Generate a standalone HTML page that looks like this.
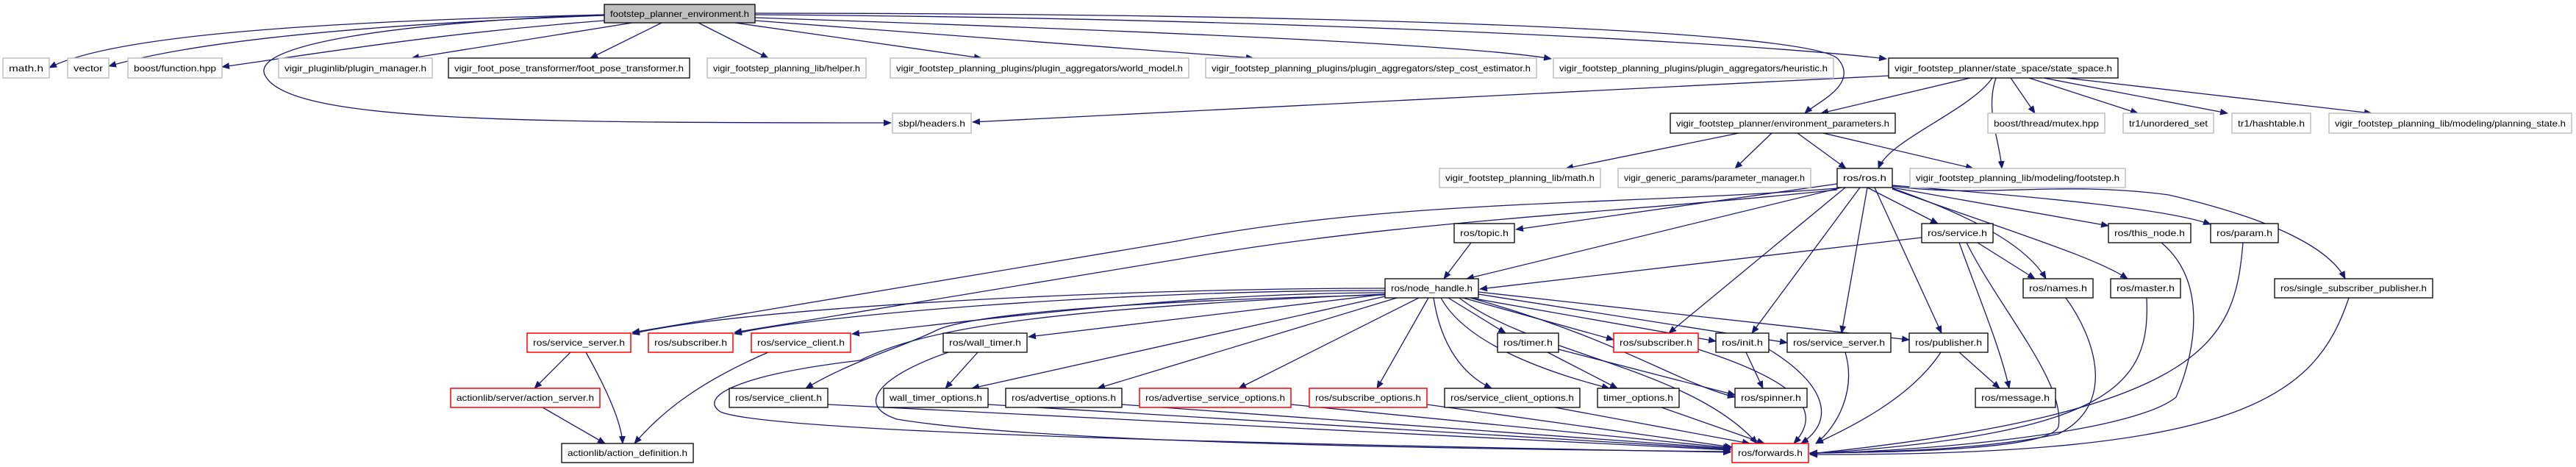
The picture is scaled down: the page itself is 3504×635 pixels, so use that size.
<!DOCTYPE html>
<html><head><meta charset="utf-8"><style>
html,body{margin:0;padding:0;background:#fff;}
svg{display:block;}
text{font-family:"Liberation Sans",sans-serif;font-size:12px;fill:#000;}
.g{fill:#fff;stroke:#bfbfbf;stroke-width:1.5;}
.k{fill:#fff;stroke:#000;stroke-width:1.3;}
.r{fill:#fff;stroke:#ff0000;stroke-width:1.5;}
.t{fill:#bfbfbf;stroke:#000;stroke-width:1.3;}
.e{fill:none;stroke:#191970;stroke-width:1.3;}
</style></head><body>
<svg width="3504" height="635" viewBox="0 0 3504 635" xmlns="http://www.w3.org/2000/svg">
<defs><marker id="a" markerUnits="userSpaceOnUse" markerWidth="11" markerHeight="9" refX="10" refY="4.5" orient="auto"><path d="M0,0 L11,4.5 L0,9 z" fill="#191970"/></marker></defs>
<g class="e" marker-end="url(#a)">
<path class="e" d="M822,20 C400,30 150,50 67,92"/>
<path class="e" d="M822,21 C450,35 250,60 148,90"/>
<path class="e" d="M822,28 C600,45 450,70 302,91"/>
<path class="e" d="M860,31 L560,79"/>
<path class="e" d="M900,31 L803,79"/>
<path class="e" d="M950,31 L1045,79"/>
<path class="e" d="M1000,31 L1335,79"/>
<path class="e" d="M1027,28 L1705,79"/>
<path class="e" d="M1027,24 C1500,40 2000,60 2110,80"/>
<path class="e" d="M1027,20 C1800,25 2400,60 2566,80"/>
<path class="e" d="M822,20 C550,30 330,60 362,105 C400,165 700,167 1212,167"/>
<path class="e" d="M1027,18 C1800,18 2460,40 2500,80 C2530,115 2470,140 2455,154"/>
<path class="e" d="M2569,103 L1323,166"/>
<path class="e" d="M2680,106 L2477,154"/>
<path class="e" d="M2710,106 C2680,150 2570,190 2555,229"/>
<path class="e" d="M2715,106 C2700,150 2720,190 2723,229"/>
<path class="e" d="M2735,106 L2768,154"/>
<path class="e" d="M2760,106 L2908,154"/>
<path class="e" d="M2780,106 L3030,154"/>
<path class="e" d="M2810,106 L3226,154"/>
<path class="e" d="M2365,181 L2130,229"/>
<path class="e" d="M2410,181 L2360,229"/>
<path class="e" d="M2445,181 L2511,229"/>
<path class="e" d="M2480,181 L2684,229"/>
<path class="e" d="M2499,250 L2062,312"/>
<path class="e" d="M2505,255 L1995,379"/>
<path class="e" d="M2540,255 L2636,304"/>
<path class="e" d="M2574,255 L2868,307"/>
<path class="e" d="M2574,252 C2800,270 2950,285 3007,305"/>
<path class="e" d="M2574,256 C2700,300 2760,340 2783,379"/>
<path class="e" d="M2574,257 C2750,320 2850,350 2894,379"/>
<path class="e" d="M2574,253 C2700,270 2800,245 2950,265 C3100,300 3170,340 3190,379"/>
<path class="e" d="M2499,256 C2200,280 1900,270 1600,328 L860,452"/>
<path class="e" d="M2499,258 C2200,290 1900,300 1600,353 L999,452"/>
<path class="e" d="M2510,255 L2270,453"/>
<path class="e" d="M2530,255 L2383,453"/>
<path class="e" d="M2540,255 L2505,453"/>
<path class="e" d="M2550,255 L2641,453"/>
<path class="e" d="M2614,323 L2013,393"/>
<path class="e" d="M2690,330 L2768,379"/>
<path class="e" d="M2665,330 C2690,400 2720,470 2733,528"/>
<path class="e" d="M2675,330 C2720,420 2810,520 2800,580 C2790,610 2600,615 2462,616"/>
<path class="e" d="M2940,330 C3000,380 2990,470 2960,540 C2900,590 2600,615 2462,616"/>
<path class="e" d="M3051,330 C3040,460 3010,560 2462,617"/>
<path class="e" d="M2810,405 C2850,460 2880,550 2800,590 C2700,612 2550,615 2462,616"/>
<path class="e" d="M2920,405 C2925,520 2880,590 2462,617"/>
<path class="e" d="M3195,405 C3150,540 3050,620 2462,618"/>
<path class="e" d="M2001,330 L1964,379"/>
<path class="e" d="M1884,392 C1500,392 1000,420 860,454"/>
<path class="e" d="M1884,395 C1500,395 1100,430 999,454"/>
<path class="e" d="M1884,398 C1600,398 1300,440 1159,454"/>
<path class="e" d="M1884,400 L1399,458"/>
<path class="e" d="M1884,401 C1500,410 1310,430 1272,450 C1220,475 1160,490 1096,528"/>
<path class="e" d="M1884,400 C1400,420 1250,450 1170,490 C1000,510 950,540 980,560 C1050,590 1800,605 2354,615"/>
<path class="e" d="M1290,479 C1200,510 1160,550 1220,570 C1400,600 1900,610 2354,614"/>
<path class="e" d="M1330,479 L1286,528"/>
<path class="e" d="M1884,403 L1322,528"/>
<path class="e" d="M1900,405 L1493,528"/>
<path class="e" d="M1930,405 L1685,528"/>
<path class="e" d="M1943,405 L1873,528"/>
<path class="e" d="M1950,405 C1960,470 1990,510 2029,528"/>
<path class="e" d="M1960,405 C1990,460 2080,500 2189,528"/>
<path class="e" d="M1970,405 L2048,453"/>
<path class="e" d="M1985,405 C2080,480 2300,500 2390,603"/>
<path class="e" d="M1990,405 L2195,462"/>
<path class="e" d="M2000,405 L2334,464"/>
<path class="e" d="M2011,400 L2431,466"/>
<path class="e" d="M2011,397 L2597,462"/>
<path class="e" d="M2000,405 C2200,460 2280,520 2360,540"/>
<path class="e" d="M776,479 L727,528"/>
<path class="e" d="M797,479 C820,520 845,570 847,603"/>
<path class="e" d="M738,554 L823,603"/>
<path class="e" d="M1045,479 C950,520 900,560 863,603"/>
<path class="e" d="M1126,550 L2354,612"/>
<path class="e" d="M1344,550 L2354,611"/>
<path class="e" d="M1526,550 L2354,610"/>
<path class="e" d="M1756,550 L2354,609"/>
<path class="e" d="M1941,550 L2356,608"/>
<path class="e" d="M2115,554 L2380,603"/>
<path class="e" d="M2260,554 L2400,603"/>
<path class="e" d="M2105,479 L2200,528"/>
<path class="e" d="M2120,475 L2360,537"/>
<path class="e" d="M2310,475 C2450,520 2480,560 2440,603"/>
<path class="e" d="M2375,479 L2398,528"/>
<path class="e" d="M2406,475 C2480,520 2500,570 2450,603"/>
<path class="e" d="M2510,479 C2525,530 2500,580 2470,603"/>
<path class="e" d="M2640,479 C2600,540 2520,580 2470,603"/>
<path class="e" d="M2665,479 L2720,528"/>
</g>

<!-- nodes -->
<rect class="t" x="822" y="6" width="205" height="25"/><text x="830" y="23" textLength="189" lengthAdjust="spacingAndGlyphs">footstep_planner_environment.h</text>

<rect class="g" x="4" y="79" width="63" height="27"/><text x="12" y="97" textLength="47" lengthAdjust="spacingAndGlyphs">math.h</text>
<rect class="g" x="92" y="79" width="56" height="27"/><text x="100" y="97" textLength="40" lengthAdjust="spacingAndGlyphs">vector</text>
<rect class="g" x="174" y="79" width="128" height="27"/><text x="182" y="97" textLength="112" lengthAdjust="spacingAndGlyphs">boost/function.hpp</text>
<rect class="g" x="379" y="79" width="209" height="27"/><text x="387" y="97" textLength="193" lengthAdjust="spacingAndGlyphs">vigir_pluginlib/plugin_manager.h</text>
<rect class="k" x="610" y="79" width="328" height="27"/><text x="618" y="97" textLength="312" lengthAdjust="spacingAndGlyphs">vigir_foot_pose_transformer/foot_pose_transformer.h</text>
<rect class="g" x="962" y="79" width="216" height="27"/><text x="970" y="97" textLength="200" lengthAdjust="spacingAndGlyphs">vigir_footstep_planning_lib/helper.h</text>
<rect class="g" x="1211" y="79" width="406" height="27"/><text x="1219" y="97" textLength="390" lengthAdjust="spacingAndGlyphs">vigir_footstep_planning_plugins/plugin_aggregators/world_model.h</text>
<rect class="g" x="1640" y="79" width="450" height="27"/><text x="1648" y="97" textLength="434" lengthAdjust="spacingAndGlyphs">vigir_footstep_planning_plugins/plugin_aggregators/step_cost_estimator.h</text>
<rect class="g" x="2113" y="79" width="381" height="27"/><text x="2121" y="97" textLength="365" lengthAdjust="spacingAndGlyphs">vigir_footstep_planning_plugins/plugin_aggregators/heuristic.h</text>
<rect class="k" x="2569" y="79" width="312" height="27"/><text x="2577" y="97" textLength="296" lengthAdjust="spacingAndGlyphs">vigir_footstep_planner/state_space/state_space.h</text>

<rect class="g" x="1214" y="154" width="107" height="27"/><text x="1222" y="172" textLength="91" lengthAdjust="spacingAndGlyphs">sbpl/headers.h</text>
<rect class="k" x="2272" y="154" width="306" height="27"/><text x="2280" y="172" textLength="290" lengthAdjust="spacingAndGlyphs">vigir_footstep_planner/environment_parameters.h</text>
<rect class="g" x="2704" y="154" width="159" height="27"/><text x="2712" y="172" textLength="143" lengthAdjust="spacingAndGlyphs">boost/thread/mutex.hpp</text>
<rect class="g" x="2888" y="154" width="123" height="27"/><text x="2896" y="172" textLength="107" lengthAdjust="spacingAndGlyphs">tr1/unordered_set</text>
<rect class="g" x="3036" y="154" width="107" height="27"/><text x="3044" y="172" textLength="91" lengthAdjust="spacingAndGlyphs">tr1/hashtable.h</text>
<rect class="g" x="3168" y="154" width="330" height="27"/><text x="3176" y="172" textLength="314" lengthAdjust="spacingAndGlyphs">vigir_footstep_planning_lib/modeling/planning_state.h</text>

<rect class="g" x="1958" y="229" width="219" height="26"/><text x="1966" y="246" textLength="203" lengthAdjust="spacingAndGlyphs">vigir_footstep_planning_lib/math.h</text>
<rect class="g" x="2201" y="229" width="262" height="26"/><text x="2209" y="246" textLength="246" lengthAdjust="spacingAndGlyphs">vigir_generic_params/parameter_manager.h</text>
<rect class="k" x="2499" y="229" width="75" height="26"/><text x="2507" y="246" textLength="59" lengthAdjust="spacingAndGlyphs">ros/ros.h</text>
<rect class="g" x="2598" y="229" width="293" height="26"/><text x="2606" y="246" textLength="277" lengthAdjust="spacingAndGlyphs">vigir_footstep_planning_lib/modeling/footstep.h</text>

<rect class="k" x="1978" y="304" width="82" height="26"/><text x="1986" y="321" textLength="66" lengthAdjust="spacingAndGlyphs">ros/topic.h</text>
<rect class="k" x="2614" y="304" width="97" height="26"/><text x="2622" y="321" textLength="81" lengthAdjust="spacingAndGlyphs">ros/service.h</text>
<rect class="k" x="2868" y="304" width="112" height="26"/><text x="2876" y="321" textLength="96" lengthAdjust="spacingAndGlyphs">ros/this_node.h</text>
<rect class="k" x="3007" y="304" width="92" height="26"/><text x="3015" y="321" textLength="76" lengthAdjust="spacingAndGlyphs">ros/param.h</text>

<rect class="k" x="1884" y="379" width="127" height="26"/><text x="1892" y="396" textLength="111" lengthAdjust="spacingAndGlyphs">ros/node_handle.h</text>
<rect class="k" x="2752" y="379" width="95" height="26"/><text x="2760" y="396" textLength="79" lengthAdjust="spacingAndGlyphs">ros/names.h</text>
<rect class="k" x="2871" y="379" width="95" height="26"/><text x="2879" y="396" textLength="79" lengthAdjust="spacingAndGlyphs">ros/master.h</text>
<rect class="k" x="3094" y="379" width="215" height="26"/><text x="3102" y="396" textLength="199" lengthAdjust="spacingAndGlyphs">ros/single_subscriber_publisher.h</text>

<rect class="r" x="717" y="453" width="141" height="26"/><text x="725" y="470" textLength="125" lengthAdjust="spacingAndGlyphs">ros/service_server.h</text>
<rect class="r" x="882" y="453" width="115" height="26"/><text x="890" y="470" textLength="99" lengthAdjust="spacingAndGlyphs">ros/subscriber.h</text>
<rect class="r" x="1022" y="453" width="135" height="26"/><text x="1030" y="470" textLength="119" lengthAdjust="spacingAndGlyphs">ros/service_client.h</text>
<rect class="k" x="1283" y="453" width="114" height="26"/><text x="1291" y="470" textLength="98" lengthAdjust="spacingAndGlyphs">ros/wall_timer.h</text>
<rect class="k" x="2037" y="453" width="83" height="26"/><text x="2045" y="470" textLength="67" lengthAdjust="spacingAndGlyphs">ros/timer.h</text>
<rect class="r" x="2195" y="453" width="115" height="26"/><text x="2203" y="470" textLength="99" lengthAdjust="spacingAndGlyphs">ros/subscriber.h</text>
<rect class="k" x="2334" y="453" width="72" height="26"/><text x="2342" y="470" textLength="56" lengthAdjust="spacingAndGlyphs">ros/init.h</text>
<rect class="k" x="2431" y="453" width="141" height="26"/><text x="2439" y="470" textLength="125" lengthAdjust="spacingAndGlyphs">ros/service_server.h</text>
<rect class="k" x="2597" y="453" width="107" height="26"/><text x="2605" y="470" textLength="91" lengthAdjust="spacingAndGlyphs">ros/publisher.h</text>

<rect class="r" x="613" y="528" width="203" height="26"/><text x="621" y="545" textLength="187" lengthAdjust="spacingAndGlyphs">actionlib/server/action_server.h</text>
<rect class="k" x="992" y="528" width="134" height="26"/><text x="1000" y="545" textLength="118" lengthAdjust="spacingAndGlyphs">ros/service_client.h</text>
<rect class="k" x="1202" y="528" width="142" height="26"/><text x="1210" y="545" textLength="126" lengthAdjust="spacingAndGlyphs">wall_timer_options.h</text>
<rect class="k" x="1368" y="528" width="158" height="26"/><text x="1376" y="545" textLength="142" lengthAdjust="spacingAndGlyphs">ros/advertise_options.h</text>
<rect class="r" x="1550" y="528" width="206" height="26"/><text x="1558" y="545" textLength="190" lengthAdjust="spacingAndGlyphs">ros/advertise_service_options.h</text>
<rect class="r" x="1781" y="528" width="160" height="26"/><text x="1789" y="545" textLength="144" lengthAdjust="spacingAndGlyphs">ros/subscribe_options.h</text>
<rect class="k" x="1965" y="528" width="184" height="26"/><text x="1973" y="545" textLength="168" lengthAdjust="spacingAndGlyphs">ros/service_client_options.h</text>
<rect class="k" x="2173" y="528" width="111" height="26"/><text x="2181" y="545" textLength="95" lengthAdjust="spacingAndGlyphs">timer_options.h</text>
<rect class="k" x="2360" y="528" width="98" height="26"/><text x="2368" y="545" textLength="82" lengthAdjust="spacingAndGlyphs">ros/spinner.h</text>
<rect class="k" x="2687" y="528" width="109" height="26"/><text x="2695" y="545" textLength="93" lengthAdjust="spacingAndGlyphs">ros/message.h</text>

<rect class="k" x="764" y="603" width="179" height="26"/><text x="772" y="620" textLength="163" lengthAdjust="spacingAndGlyphs">actionlib/action_definition.h</text>
<rect class="r" x="2356" y="603" width="104" height="26"/><text x="2364" y="620" textLength="88" lengthAdjust="spacingAndGlyphs">ros/forwards.h</text>
</svg>
</body></html>
